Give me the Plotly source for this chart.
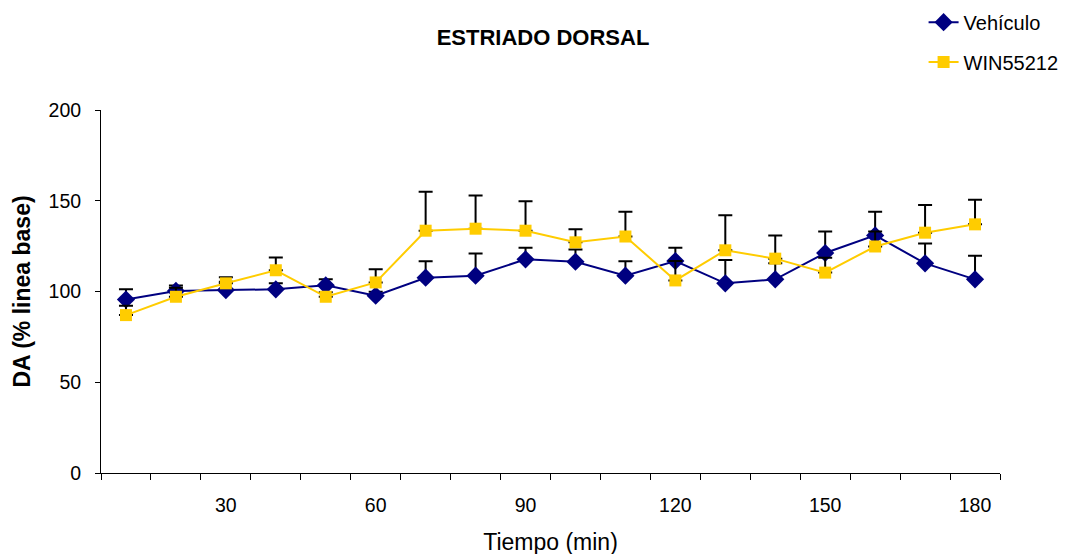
import plotly.graph_objects as go

# Tiempo (min)
tiempo = [10, 20, 30, 40, 50, 60, 70, 80, 90, 100, 110, 120, 130, 140, 150, 160, 170, 180]

# DA (% linea base) - mean and error (upper only)
vehiculo = [95.6, 100.3, 100.8, 101.2, 103.4, 97.7, 107.6, 108.7, 117.7, 116.4, 108.7, 116.8, 104.5, 106.7, 121.2, 130.9, 115.5, 106.7]
vehiculo_err = [5.6, 3.0, 4.6, 3.3, 3.3, 2.2, 9.0, 12.3, 6.4, 6.8, 7.9, 7.3, 12.9, 8.8, 11.8, 13.1, 11.0, 13.0]
win = [87.0, 97.1, 104.5, 111.7, 97.1, 105.0, 133.5, 134.6, 133.5, 127.1, 130.3, 106.1, 122.7, 118.1, 110.4, 124.8, 132.4, 137.0]
win_err = [5.2, 5.0, 3.3, 7.1, 2.5, 7.2, 21.5, 18.3, 16.2, 7.2, 13.7, 10.7, 19.3, 12.8, 8.2, 8.2, 15.3, 13.6]

x_labels = [30, 60, 90, 120, 150, 180]
cat_edges = [5 + 10 * i for i in range(19)]

fig = go.Figure()

fig.add_trace(go.Scatter(
    x=tiempo, y=vehiculo, name='Vehículo', mode='lines+markers',
    line=dict(color='#000080', width=2),
    marker=dict(symbol='diamond', size=14, color='#000080'),
    error_y=dict(type='data', array=vehiculo_err, symmetric=False,
                 arrayminus=[0] * len(vehiculo), color='black', thickness=2, width=7),
    legend='legend', showlegend=True
))

fig.add_trace(go.Scatter(
    x=tiempo, y=win, name='WIN55212', mode='lines+markers',
    line=dict(color='#FFCC00', width=2),
    marker=dict(symbol='square', size=12, color='#FFCC00'),
    error_y=dict(type='data', array=win_err, symmetric=False,
                 arrayminus=[0] * len(win), color='black', thickness=2, width=7),
    legend='legend2', showlegend=True
))

font_name = 'Liberation Sans, Arial, sans-serif'

# page body adds an 8px offset, so margins are shifted to compensate
fig.update_layout(
    width=1070, height=554,
    showlegend=True,
    margin=dict(l=93, r=78, t=102, b=89, autoexpand=False),
    plot_bgcolor='white', paper_bgcolor='white',
    font=dict(family=font_name, size=19.5, color='black'),
    title=dict(text='<b>ESTRIADO DORSAL</b>', x=0.5, xanchor='center',
               y=0.948, yanchor='middle', font=dict(size=22)),
    xaxis=dict(
        range=[5, 185], tickmode='array', tickvals=x_labels,
        ticks='outside', ticklen=15, tickcolor='rgba(0,0,0,0)',
        showline=True, linecolor='black', linewidth=1, showgrid=False, zeroline=False,
        automargin=False,
        minor=dict(tickmode='array', tickvals=cat_edges, ticks='outside',
                   ticklen=6, tickcolor='black', showgrid=False),
        title=dict(text='Tiempo (min)', standoff=18),
    ),
    yaxis=dict(
        range=[0, 200], tickvals=[0, 50, 100, 150, 200],
        ticks='outside', ticklen=5, tickcolor='black', ticklabelstandoff=10,
        showline=True, linecolor='black', linewidth=1, showgrid=False, zeroline=False,
        automargin=False,
        title=dict(text='<b>DA (% linea base)</b>', standoff=11),
    ),
    legend=dict(x=0.915, y=1.242, xanchor='left', yanchor='middle',
                bgcolor='rgba(0,0,0,0)', font=dict(size=20)),
    legend2=dict(x=0.915, y=1.132, xanchor='left', yanchor='middle',
                 bgcolor='rgba(0,0,0,0)', font=dict(size=20)),
)

fig.write_html("out.html")
